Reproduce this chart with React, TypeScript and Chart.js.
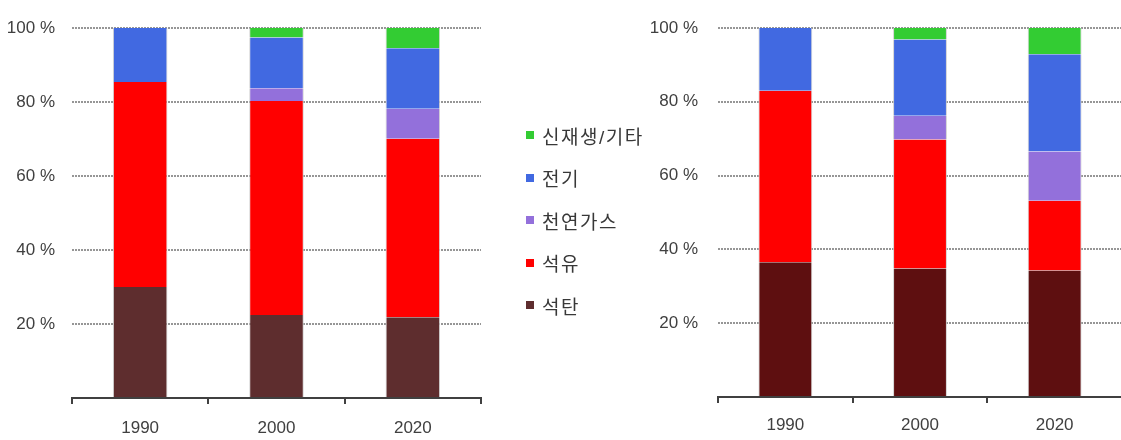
import React, { useEffect, useRef } from "react";
import { Chart, registerables } from "chart.js";

Chart.register(...registerables);

const categories = ["1990", "2000", "2020"];
const seriesNames = ["석탄", "석유", "천연가스", "전기", "신재생/기타"];

// Left chart (% shares)
const leftCoal = [30.0, 22.4, 21.8];
const leftOil = [55.4, 57.9, 48.3];
const leftGas = [0, 3.4, 8.1];
const leftElec = [14.6, 13.7, 16.3];
const leftRenew = [0, 2.6, 5.5];

// Right chart (% shares)
const rightCoal = [36.5, 34.8, 34.3];
const rightOil = [46.5, 35.0, 18.9];
const rightGas = [0, 6.4, 13.3];
const rightElec = [17.0, 20.7, 26.4];
const rightRenew = [0, 3.1, 7.1];

const yTicks = [0, 20, 40, 60, 80, 100];

const colors = ["#5E2D2E", "#FF0000", "#9370DB", "#4169E1", "#33CC33"];
const rightCoalColor = "#5E0F10";

const FONT = "'Liberation Sans', 'Noto Sans CJK KR', sans-serif";
const TEXT = "#404040";

function makeConfig(
  series: number[][],
  coalColor: string,
  yWidth: number,
  xHeight: number,
  padTop: number,
  padRight: number,
  yPad: number,
  xPad: number
): any {
  const datasets = series.map((vals, i) => ({
    label: seriesNames[i],
    data: vals,
    backgroundColor: i === 0 ? coalColor : colors[i],
    borderColor: "rgba(205,205,205,0.9)",
    borderWidth: { left: 1, right: 1, top: 0, bottom: 0 },
    borderSkipped: false,
    barPercentage: 0.4,
    categoryPercentage: 1,
  }));
  return {
    type: "bar",
    data: { labels: categories, datasets },
    options: {
      animation: false,
      responsive: false,
      maintainAspectRatio: false,
      layout: { padding: { top: padTop, bottom: 0, left: 0, right: padRight } },
      plugins: { legend: { display: false }, tooltip: { enabled: false } },
      scales: {
        x: {
          stacked: true,
          offset: true,
          afterFit: (s: any) => { s.height = xHeight; },
          border: { display: true, color: TEXT, width: 2 },
          grid: {
            offset: true,
            drawOnChartArea: false,
            drawTicks: true,
            tickLength: 6,
            color: TEXT,
            lineWidth: 2,
          },
          ticks: { color: TEXT, font: { family: FONT, size: 17 }, padding: xPad, maxRotation: 0 },
        },
        y: {
          stacked: true,
          min: 0,
          max: 100,
          afterFit: (s: any) => {
            s.width = yWidth;
            s.paddingTop = 10;
            s.paddingBottom = 10;
          },
          afterBuildTicks: (s: any) => { s.ticks = yTicks.map((v) => ({ value: v })); },
          border: { display: false, dash: [2, 1] },
          grid: {
            drawTicks: false,
            color: (ctx: any) => (ctx.tick && ctx.tick.value === 0 ? "rgba(0,0,0,0)" : "#969696"),
            lineWidth: 2,
          },
          ticks: {
            color: TEXT,
            padding: yPad,
            font: { family: FONT, size: 17 },
            callback: (v: any) => (v === 0 ? "" : v + " %"),
          },
        },
      },
    },
  };
}

export default function App() {
  const leftRef = useRef<HTMLCanvasElement>(null);
  const rightRef = useRef<HTMLCanvasElement>(null);

  useEffect(() => {
    const leftCfg = makeConfig([leftCoal, leftOil, leftGas, leftElec, leftRenew], colors[0], 72, 42, 28, 19, 17, 14);
    const rightCfg = makeConfig([rightCoal, rightOil, rightGas, rightElec, rightRenew], rightCoalColor, 118, 43, 28, 0, 20, 12);
    const l = new Chart(leftRef.current as HTMLCanvasElement, leftCfg);
    const r = new Chart(rightRef.current as HTMLCanvasElement, rightCfg);
    return () => {
      l.destroy();
      r.destroy();
    };
  }, []);

  const legendOrder = [4, 3, 2, 1, 0];

  return (
    <div style={{ position: "fixed", left: 0, top: 0, width: 1121, height: 440, overflow: "hidden", background: "#fff" }}>
      <canvas ref={leftRef} width={500} height={440} style={{ position: "absolute", left: 0, top: 0, display: "block" }} />
      <canvas ref={rightRef} width={522} height={440} style={{ position: "absolute", left: 600, top: 0, display: "block" }} />
      {legendOrder.map((idx, i) => (
        <div
          key={seriesNames[idx]}
          style={{
            position: "absolute",
            left: 526,
            top: 135 + i * 42.5 - 13,
            height: 26,
            display: "flex",
            alignItems: "center",
            fontFamily: FONT,
            fontSize: 19,
            letterSpacing: 1.5,
            color: "#383838",
            whiteSpace: "nowrap",
          }}
        >
          <span style={{ display: "inline-block", width: 8, height: 8, background: colors[idx], marginRight: 8 }} />
          <span>{seriesNames[idx]}</span>
        </div>
      ))}
    </div>
  );
}
